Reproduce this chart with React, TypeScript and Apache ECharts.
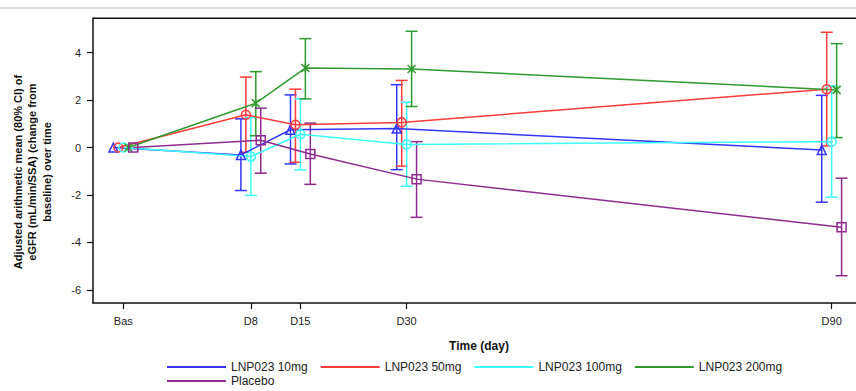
import React, { useEffect, useRef } from "react";
import * as echarts from "echarts";

const DAYS = [-10, 8, 15, 30, 90];
const TICK_LABELS = ["Bas", "D8", "D15", "D30", "D90"];
const Y_TICKS = [-6, -4, -2, 0, 2, 4];

const SERIES_NAMES = ["LNP023 10mg", "LNP023 50mg", "LNP023 100mg", "LNP023 200mg", "Placebo"];
const COLORS = ["#3535ff", "#ff3b3b", "#3cfcfc", "#2f9a2f", "#8e2b8e"];

const mean10 = [0, -0.31, 0.75, 0.8, -0.1];
const lo10 = [0, -1.81, -0.69, -0.93, -2.3];
const hi10 = [0, 1.21, 2.22, 2.65, 2.2];

const mean50 = [0, 1.38, 0.96, 1.06, 2.46];
const lo50 = [0, -0.2, -0.62, -0.78, 0.07];
const hi50 = [0, 2.97, 2.46, 2.83, 4.86];

const mean100 = [0, -0.38, 0.56, 0.13, 0.25];
const lo100 = [0, -2.02, -0.94, -1.63, -2.09];
const hi100 = [0, 1.26, 2.05, 1.91, 2.6];

const mean200 = [0, 1.87, 3.35, 3.31, 2.43];
const lo200 = [0, 0.5, 2.05, 1.73, 0.42];
const hi200 = [0, 3.2, 4.59, 4.9, 4.38];

const meanPbo = [0, 0.31, -0.27, -1.33, -3.36];
const loPbo = [0, -1.08, -1.55, -2.94, -5.4];
const hiPbo = [0, 1.66, 1.03, 0.25, -1.29];

const MEANS = [mean10, mean50, mean100, mean200, meanPbo];
const LOWS = [lo10, lo50, lo100, lo200, loPbo];
const HIGHS = [hi10, hi50, hi100, hi200, hiPbo];
const DODGE = 0.7;

const SYMBOLS = [
  "triangle",
  "circle",
  "circle",
  "path://M0,0L10,10M10,0L0,10M5,0L5,10",
  "rect",
];

const FONT = "'Liberation Sans', Arial, sans-serif";

export default function App() {
  const ref = useRef<HTMLDivElement>(null);
  useEffect(() => {
    if (!ref.current) return;
    const chart = echarts.init(ref.current, undefined, { renderer: "svg" });

    const lineSeries: any[] = [];
    const errSeries: any[] = [];
    SERIES_NAMES.forEach((name, i) => {
      const off = (i - 2) * DODGE;
      const c = COLORS[i];
      lineSeries.push({
        name,
        type: "line",
        color: c,
        data: DAYS.map((d, k) => [d + off, MEANS[i][k]]),
        symbol: SYMBOLS[i],
        symbolSize: i === 3 ? 8 : 9,
        lineStyle: { color: c, width: 1.5 },
        itemStyle: { color: "none", borderColor: c, borderWidth: 1.5 },
        emphasis: { disabled: true },
        z: 3,
      });
      errSeries.push({
        name: "err" + i,
        type: "custom",
        data: DAYS.slice(1).map((d, k) => [d + off, LOWS[i][k + 1], HIGHS[i][k + 1]]),
        encode: { x: 0, y: [1, 2] },
        renderItem: (params: any, api: any) => {
          const x = api.value(0);
          const p1 = api.coord([x, api.value(2)]);
          const p2 = api.coord([x, api.value(1)]);
          const w = 6;
          const st = { stroke: c, lineWidth: 1.5 };
          return {
            type: "group",
            children: [
              { type: "line", shape: { x1: p1[0], y1: p1[1], x2: p2[0], y2: p2[1] }, style: st },
              { type: "line", shape: { x1: p1[0] - w, y1: p1[1], x2: p1[0] + w, y2: p1[1] }, style: st },
              { type: "line", shape: { x1: p2[0] - w, y1: p2[1], x2: p2[0] + w, y2: p2[1] }, style: st },
            ],
          };
        },
        silent: true,
        z: 2,
      });
    });

    const legendItem = (i: number) => ({
      name: SERIES_NAMES[i],
      itemStyle: { color: COLORS[i], borderColor: COLORS[i], borderWidth: 0 },
    });
    const legendCommon = {
      left: 167,
      orient: "horizontal",
      icon: "rect",
      itemWidth: 59,
      itemHeight: 2,
      itemGap: 13,
      padding: 0,
      textStyle: { fontFamily: FONT, fontSize: 12, color: "#222" },
    };

    chart.setOption({
      animation: false,
      backgroundColor: "#fff",
      grid: { left: 93, right: 10, top: 18, bottom: 88, outerBoundsMode: "none", show: false },
      xAxis: {
        type: "value",
        min: -14.28,
        max: 94.0,
        splitLine: { show: false },
        axisLine: { show: true, onZero: false, lineStyle: { color: "#111", width: 1.5 } },
        axisTick: { show: true, length: 6, customValues: DAYS, lineStyle: { color: "#111", width: 1.2 } },
        axisLabel: {
          customValues: DAYS,
          formatter: (v: number) => TICK_LABELS[DAYS.indexOf(v)] ?? "",
          margin: 12,
          fontFamily: FONT,
          fontSize: 11,
          color: "#222",
        },
      },
      yAxis: {
        type: "value",
        min: -6.55,
        max: 5.46,
        splitLine: { show: false },
        axisLine: { show: true, onZero: false, lineStyle: { color: "#111", width: 1.5 } },
        axisTick: { show: true, length: 6, customValues: Y_TICKS, lineStyle: { color: "#111", width: 1.2 } },
        axisLabel: {
          customValues: Y_TICKS,
          margin: 12,
          fontFamily: FONT,
          fontSize: 11,
          color: "#222",
        },
      },
      legend: [
        { ...legendCommon, top: 361, data: [0, 1, 2, 3].map(legendItem) },
        { ...legendCommon, top: 375, data: [legendItem(4)] },
      ],
      graphic: [
        { type: "rect", left: 0, top: 7, shape: { width: 856, height: 2 }, style: { fill: "#d9d9d9" } },
        { type: "rect", left: 93, top: 17.5, shape: { width: 800, height: 1.5 }, style: { fill: "#111" } },
        {
          type: "text",
          x: 32,
          y: 172,
          rotation: Math.PI / 2,
          style: {
            text: "Adjusted arithmetic mean (80% CI) of\neGFR (mL/min/SSA) (change from\nbaseline) over time",
            font: `bold 11px ${FONT}`,
            fill: "#111",
            align: "center",
            verticalAlign: "middle",
            lineHeight: 14.5,
          },
        },
        {
          type: "text",
          x: 479,
          y: 346,
          style: {
            text: "Time (day)",
            font: `bold 12px ${FONT}`,
            fill: "#111",
            align: "center",
            verticalAlign: "middle",
          },
        },
      ],
      series: [...errSeries, ...lineSeries],
    });
    return () => chart.dispose();
  }, []);

  return (
    <div style={{ position: "fixed", left: 0, top: 0, width: 856, height: 391, overflow: "hidden", background: "#fff" }}>
      <div ref={ref} style={{ width: 870, height: 391 }} />
    </div>
  );
}
